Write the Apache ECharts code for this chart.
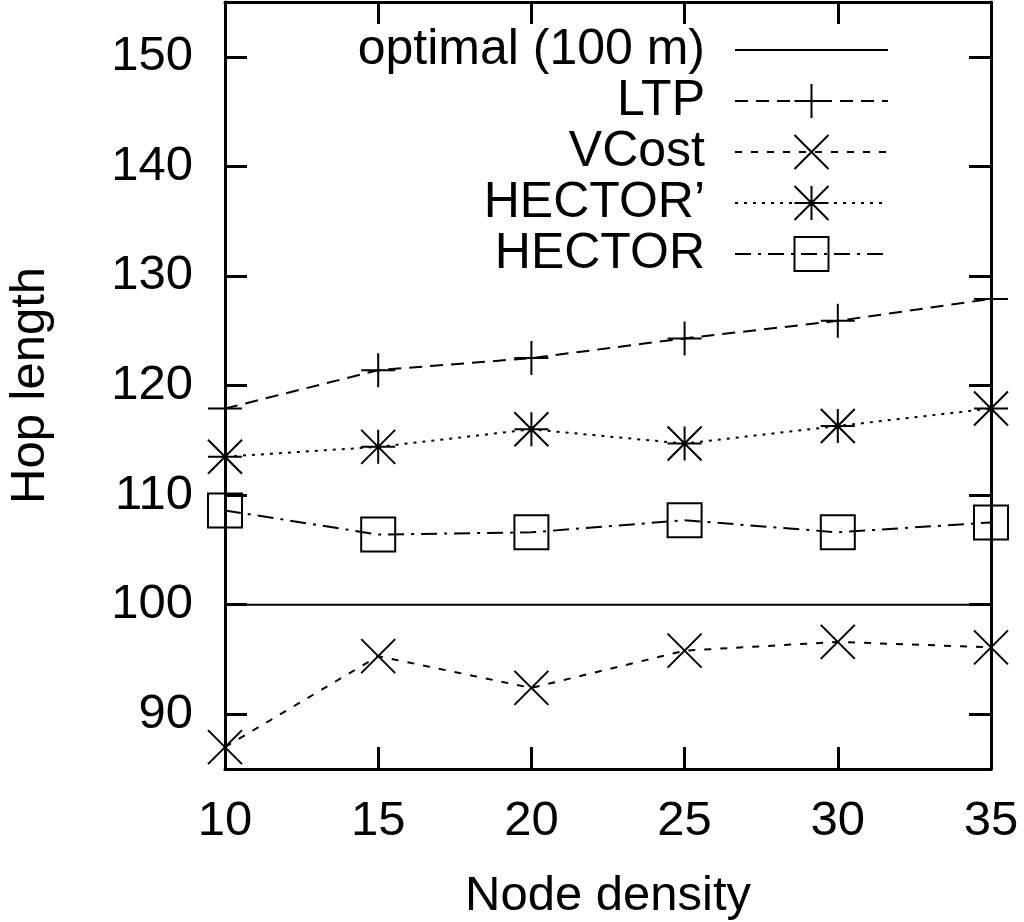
<!DOCTYPE html>
<html>
<head>
<meta charset="utf-8">
<script src="https://cdn.jsdelivr.net/npm/echarts@6/dist/echarts.min.js"></script>
<style>html,body{margin:0;padding:0;background:#fff;}#c{width:1024px;height:922px;}</style>
</head>
<body>
<div id="c"></div>
<script>
var densities = [10, 15, 20, 25, 30, 35];
var optimal = [100, 100, 100, 100, 100, 100];
var ltp = [117.9, 121.4, 122.5, 124.3, 125.9, 127.9];
var vcost = [87.0, 95.3, 92.4, 95.8, 96.6, 96.1];
var hectorPrime = [113.5, 114.4, 116.0, 114.7, 116.3, 117.9];
var hector = [108.6, 106.4, 106.6, 107.7, 106.6, 107.5];
var yTicks = [90, 100, 110, 120, 130, 140, 150];
var seriesNames = ['optimal (100 m)', 'LTP', 'VCost', 'HECTOR\u2019', 'HECTOR'];

function pairs(arr) { return densities.map(function (d, i) { return [d, arr[i]]; }); }

var FONT = 'Liberation Sans';
var FS = 49;
var PLUS = 'path://M0,-1L0,1M-1,0L1,0';
var CROSS = 'path://M-1,-1L1,1M-1,1L1,-1';
var STAR = 'path://M-1,-1L1,1M-1,1L1,-1M0,-1L0,1M-1,0L1,0';

var markerStyle = { color: 'none', borderColor: '#000', borderWidth: 2 };

function mkSeries(name, arr, symbol, dash) {
  return {
    name: name, type: 'line', data: pairs(arr), clip: false,
    symbol: symbol, symbolSize: 34,
    lineStyle: { color: '#000', width: 2, type: dash },
    itemStyle: markerStyle,
    emphasis: { disabled: true },
    z: 3
  };
}

var axisCommonX = {
  type: 'value', min: 10, max: 35, interval: 5,
  axisLine: { show: true, onZero: false, lineStyle: { color: '#000', width: 3 } },
  axisTick: { show: true, inside: true, length: 22, lineStyle: { color: '#000', width: 3 } },
  splitLine: { show: false }
};
var axisCommonY = {
  type: 'value', min: 85, max: 155,
  axisLine: { show: true, onZero: false, lineStyle: { color: '#000', width: 3 } },
  axisTick: { show: true, inside: true, length: 22, customValues: yTicks, lineStyle: { color: '#000', width: 3 } },
  splitLine: { show: false }
};

var option = {
  backgroundColor: '#fff',
  animation: false,
  textStyle: { fontFamily: FONT },
  grid: { left: 225, right: 33, top: 2, bottom: 153, containLabel: false, outerBoundsMode: 'none' },
  legend: {
    data: seriesNames,
    orient: 'vertical',
    right: 130, top: 20,
    align: 'right',
    itemWidth: 153, itemHeight: 42.5, itemGap: 1,
    selectedMode: false,
    textStyle: { fontFamily: FONT, fontSize: 50, color: '#000', padding: [0, 25, 0, 0] }
  },
  xAxis: [
    Object.assign({}, axisCommonX, {
      position: 'bottom',
      name: 'Node density', nameLocation: 'middle', nameGap: 103,
      nameTextStyle: { fontFamily: FONT, fontSize: FS, color: '#000' },
      axisLabel: { show: true, margin: 28, fontFamily: FONT, fontSize: FS, color: '#000' }
    }),
    Object.assign({}, axisCommonX, { position: 'top', axisLabel: { show: false } })
  ],
  yAxis: [
    Object.assign({}, axisCommonY, {
      position: 'left',
      name: 'Hop length', nameLocation: 'middle', nameGap: 170,
      nameTextStyle: { fontFamily: FONT, fontSize: FS, color: '#000' },
      axisLabel: { show: true, margin: 32, customValues: yTicks, fontFamily: FONT, fontSize: FS, color: '#000' }
    }),
    Object.assign({}, axisCommonY, { position: 'right', axisLabel: { show: false } })
  ],
  series: [
    {
      name: seriesNames[0], type: 'line', data: pairs(optimal),
      symbol: 'circle', showSymbol: false, symbolSize: 0,
      lineStyle: { color: '#000', width: 2, type: 'solid' },
      itemStyle: { color: 'rgba(0,0,0,0)', borderColor: 'rgba(0,0,0,0)', borderWidth: 0 },
      emphasis: { disabled: true }, z: 2
    },
    mkSeries(seriesNames[1], ltp, PLUS, [13, 8]),
    mkSeries(seriesNames[2], vcost, CROSS, [7, 9]),
    mkSeries(seriesNames[3], hectorPrime, STAR, [3, 6]),
    mkSeries(seriesNames[4], hector, 'rect', [16, 7, 3, 7])
  ]
};

var chart = echarts.init(document.getElementById('c'), null, { renderer: 'canvas' });
chart.setOption(option);
</script>
</body>
</html>
